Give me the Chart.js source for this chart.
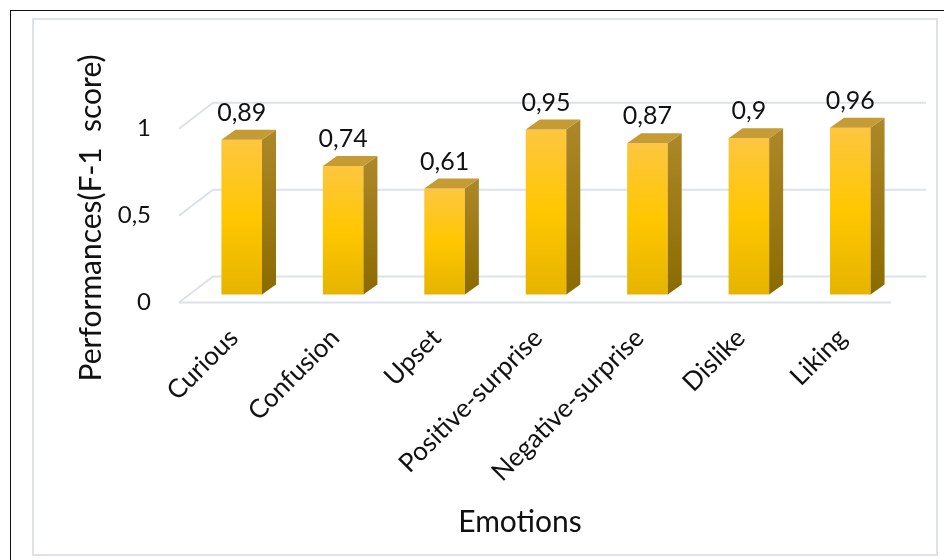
<!DOCTYPE html>
<html>
<head>
<meta charset="utf-8">
<title>F-1 score per emotion</title>
<script src="https://cdn.jsdelivr.net/npm/chart.js@4.4.1/dist/chart.umd.min.js"></script>
<style>
  html, body { margin: 0; padding: 0; background: #fff; }
  #wrap { position: relative; width: 944px; height: 560px; overflow: hidden; }
  .frame { position: absolute; left: 10px; top: 10px; width: 960px; height: 600px;
           border-top: 1.5px solid #111; border-left: 1.5px solid #111; }
  .panel { position: absolute; left: 32px; top: 18px; width: 902px; height: 534px;
           border: 2px solid #dfe3e9; }
  canvas { position: absolute; left: 0; top: 0; }
</style>
</head>
<body>
<div id="wrap">
  <div class="frame"></div>
  <div class="panel"></div>
  <canvas id="chart" width="944" height="560"></canvas>
</div>
<script>
const emotions = ["Curious", "Confusion", "Upset", "Positive-surprise", "Negative-surprise", "Dislike", "Liking"];
const f1Scores = [0.89, 0.74, 0.61, 0.95, 0.87, 0.9, 0.96];
const yTicks   = [0, 0.5, 1];

const FONT = "Lato, Carlito, Calibri, sans-serif";
const DEPTH_X = 14, DEPTH_Y = 10;   // extrusion of each bar
const LIFT = 8 / 174;               // bars stand a little behind the floor edge

const fmt = (v) => String(v).replace(".", ",");

// front face: light gold at the top, darker towards the floor
function frontFill(c) {
  const chart = c.chart;
  if (!chart.chartArea || c.dataIndex == null) return "#ffc600";
  const yb = chart.scales.yb;
  const top = yb.getPixelForValue(f1Scores[c.dataIndex]);
  const bot = yb.getPixelForValue(0);
  const g = chart.ctx.createLinearGradient(0, top, 0, bot);
  g.addColorStop(0, "#fdc640");
  g.addColorStop(0.5, "#ffc700");
  g.addColorStop(1, "#e6b400");
  return g;
}

// perspective grid: back-wall lines with a diagonal down to the front edge
const wallGrid = {
  id: "wallGrid",
  beforeDatasetsDraw(chart) {
    const { ctx, chartArea: ca, scales: { y } } = chart;
    ctx.save();
    ctx.strokeStyle = "#dde1e8";
    ctx.lineWidth = 2;
    yTicks.forEach((v) => {
      const yf = y.getPixelForValue(v);
      ctx.beginPath();
      ctx.moveTo(ca.left - 12, yf);
      ctx.lineTo(ca.left + 22, yf - 26);
      ctx.lineTo(ca.right + 25, yf - 26);
      ctx.stroke();
    });
    const y0 = y.getPixelForValue(0);
    ctx.beginPath();
    ctx.moveTo(ca.left - 12, y0);
    ctx.lineTo(ca.right - 10, y0);
    ctx.stroke();
    ctx.restore();
  },
};

// side + top faces and the value labels
const bar3d = {
  id: "bar3d",
  afterDatasetsDraw(chart) {
    const { ctx } = chart;
    const meta = chart.getDatasetMeta(0);
    ctx.save();
    meta.data.forEach((bar, i) => {
      const { x, y, base, width } = bar.getProps(["x", "y", "base", "width"], true);
      const l = x - width / 2, r = x + width / 2;

      const gs = ctx.createLinearGradient(0, y - DEPTH_Y, 0, base);
      gs.addColorStop(0, "#ad8829");
      gs.addColorStop(1, "#8b6b00");
      ctx.fillStyle = gs;
      ctx.beginPath();
      ctx.moveTo(r, y);
      ctx.lineTo(r + DEPTH_X, y - DEPTH_Y);
      ctx.lineTo(r + DEPTH_X, base - DEPTH_Y);
      ctx.lineTo(r, base);
      ctx.closePath();
      ctx.fill();

      ctx.fillStyle = "#c59b34";
      ctx.beginPath();
      ctx.moveTo(l, y);
      ctx.lineTo(l + DEPTH_X, y - DEPTH_Y);
      ctx.lineTo(r + DEPTH_X, y - DEPTH_Y);
      ctx.lineTo(r, y);
      ctx.closePath();
      ctx.fill();

      ctx.fillStyle = "#111";
      ctx.font = `25px ${FONT}`;
      ctx.textAlign = "center";
      ctx.textBaseline = "middle";
      ctx.fillText(fmt(f1Scores[i]), x, y - 27);
    });
    ctx.restore();
  },
};

const axisTitles = {
  id: "axisTitles",
  afterDraw(chart) {
    const { ctx } = chart;
    ctx.save();
    ctx.fillStyle = "#111";
    ctx.font = `30px ${FONT}`;
    ctx.textAlign = "center";
    ctx.textBaseline = "alphabetic";
    ctx.fillText("Emotions", 520, 532);
    ctx.translate(91, 218);
    ctx.rotate(-Math.PI / 2);
    ctx.textBaseline = "middle";
    ctx.fillText("Performances(F-1  score)", 0, 0);
    ctx.restore();
  },
};

new Chart(document.getElementById("chart"), {
  type: "bar",
  data: {
    labels: emotions,
    datasets: [{
      data: f1Scores,
      yAxisID: "yb",
      backgroundColor: frontFill,
      borderWidth: 0,
      barPercentage: 0.4,
      categoryPercentage: 1,
    }],
  },
  options: {
    responsive: false,
    animation: false,
    layout: { padding: { top: 94, right: 43, left: 0, bottom: 0 } },
    plugins: { legend: { display: false }, tooltip: { enabled: false } },
    scales: {
      x: {
        grid: { display: false, drawTicks: false },
        border: { display: false },
        ticks: {
          autoSkip: false,
          minRotation: 45,
          maxRotation: 45,
          padding: 20,
          labelOffset: -8,
          color: "#111",
          font: { family: FONT, size: 26 },
        },
        afterFit: (s) => { s.height = 257.5; },
      },
      y: {
        min: 0,
        max: 1.2,
        grid: { display: false, drawTicks: false },
        border: { display: false },
        ticks: {
          stepSize: 0.5,
          includeBounds: false,
          padding: 40,
          color: "#111",
          font: { family: FONT, size: 24 },
          callback: (v) => fmt(v),
        },
        afterFit: (s) => { s.width = 191; },
      },
      yb: { display: false, min: -LIFT, max: 1.2 - LIFT },
    },
  },
  plugins: [wallGrid, bar3d, axisTitles],
});
</script>
</body>
</html>
